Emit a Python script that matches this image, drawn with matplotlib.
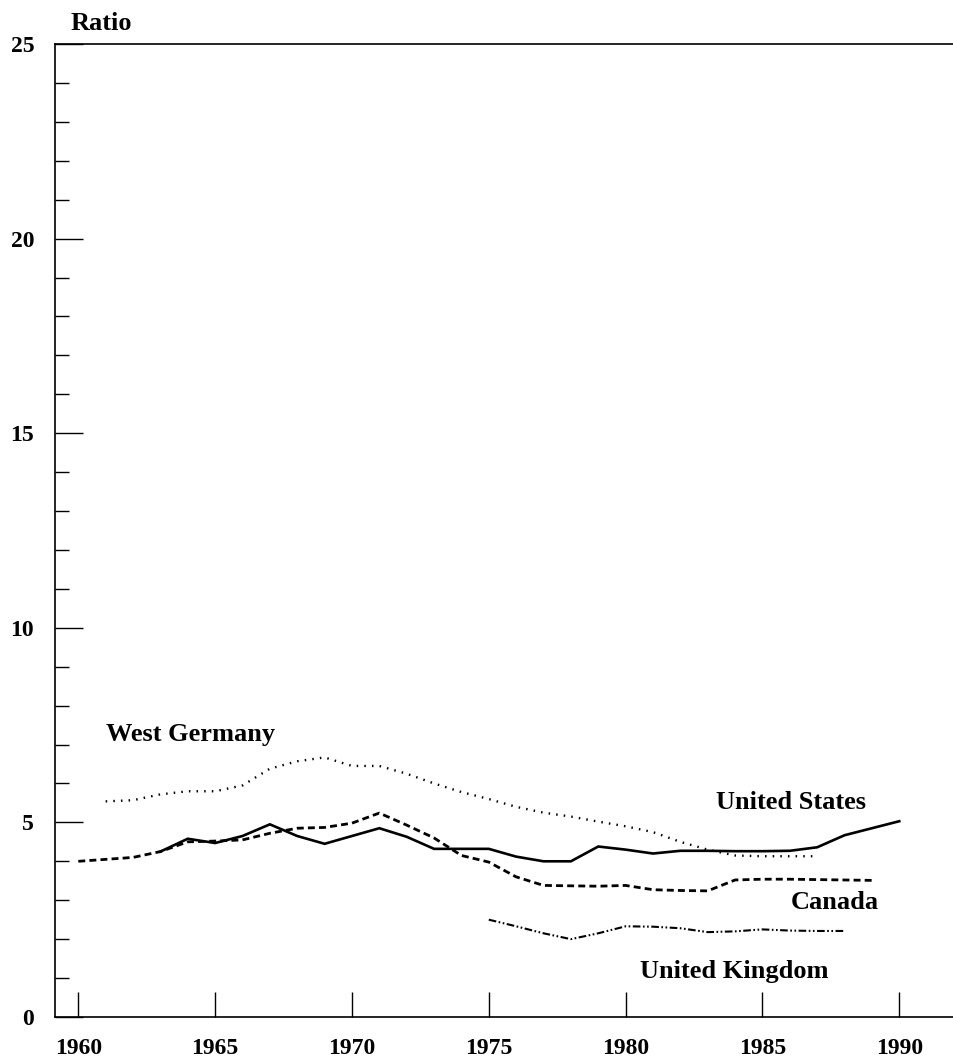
#!/usr/bin/env python
# coding: utf-8

import matplotlib
matplotlib.use("Agg")
import matplotlib.pyplot as plt
from matplotlib.ticker import MultipleLocator

# Ratio series by country, read year by year
years_canada = list(range(1960, 1990))
canada = [4.00, 4.05, 4.10, 4.25, 4.50, 4.52, 4.55, 4.72, 4.85, 4.87,
          4.98, 5.24, 4.93, 4.60, 4.15, 3.98, 3.60, 3.38, 3.37, 3.36,
          3.38, 3.27, 3.25, 3.24, 3.52, 3.54, 3.54, 3.53, 3.52, 3.51]

years_us = list(range(1963, 1991))
united_states = [4.25, 4.58, 4.47, 4.65, 4.95, 4.65, 4.45, 4.65, 4.85, 4.63,
                 4.32, 4.32, 4.32, 4.12, 4.00, 4.00, 4.38, 4.30, 4.20, 4.27,
                 4.27, 4.26, 4.26, 4.27, 4.36, 4.67, 4.85, 5.03]

years_wg = list(range(1961, 1988))
west_germany = [5.54, 5.57, 5.72, 5.80, 5.80, 5.95, 6.38, 6.57, 6.67, 6.45,
                6.45, 6.25, 6.00, 5.78, 5.60, 5.40, 5.25, 5.15, 5.02, 4.90,
                4.75, 4.50, 4.30, 4.15, 4.13, 4.13, 4.13]

years_uk = list(range(1975, 1989))
united_kingdom = [2.50, 2.33, 2.15, 2.00, 2.15, 2.33, 2.32, 2.28, 2.18, 2.20,
                  2.25, 2.22, 2.21, 2.21]

plt.rcParams['font.family'] = ['Liberation Serif', 'DejaVu Serif']
plt.rcParams['font.weight'] = 'bold'
plt.rcParams['lines.scale_dashes'] = False

fig = plt.figure(figsize=(9.54, 10.64), dpi=100)
ax = fig.add_axes([0.0577, 0.0442, 0.9423, 0.9144])

ax.plot(years_us, united_states, color='black', lw=1.9, solid_joinstyle='miter')
ax.plot(years_canada, canada, color='black', lw=2.0, linestyle=(0, (5, 3)))
ax.plot(years_wg, west_germany, color='black', lw=1.7,
        linestyle=(0, (1.1, 4.4)), dash_capstyle='butt')
ax.plot(years_uk, united_kingdom, color='black', lw=1.5,
        linestyle=(0, (5.5, 1.8, 1.2, 1.8, 1.2, 1.8)))

# Series labels
lab = dict(fontsize=19, color='black', va='center', fontweight='bold')
ax.text(1961.0, 7.25, "West Germany", ha='left', **lab)
ax.text(1986.06, 5.52, "United States", ha='center', **lab)
ax.text(1987.63, 2.95, "Canada", ha='center', **lab)
ax.text(1983.98, 1.16, "United Kingdom", ha='center', **lab)

ax.text(1960.84, 25.54, "Ratio", ha='center', va='center', fontsize=19,
        fontweight='bold', clip_on=False)

ax.set_xlim(1959.15, 1992)
ax.set_ylim(0, 25)

ax.xaxis.set_major_locator(MultipleLocator(5))
ax.yaxis.set_major_locator(MultipleLocator(5))
ax.yaxis.set_minor_locator(MultipleLocator(1))

ax.tick_params(axis='x', which='major', direction='in', length=18, width=1.0,
               pad=15, labelsize=17)
ax.tick_params(axis='y', which='major', direction='in', length=20, width=1.0,
               pad=15, labelsize=17)
ax.tick_params(axis='y', which='minor', direction='in', length=10, width=1.0)

ax.spines['right'].set_visible(False)
for side in ('left', 'top', 'bottom'):
    ax.spines[side].set_linewidth(1.2)

fig.savefig("out.png", dpi=100)
